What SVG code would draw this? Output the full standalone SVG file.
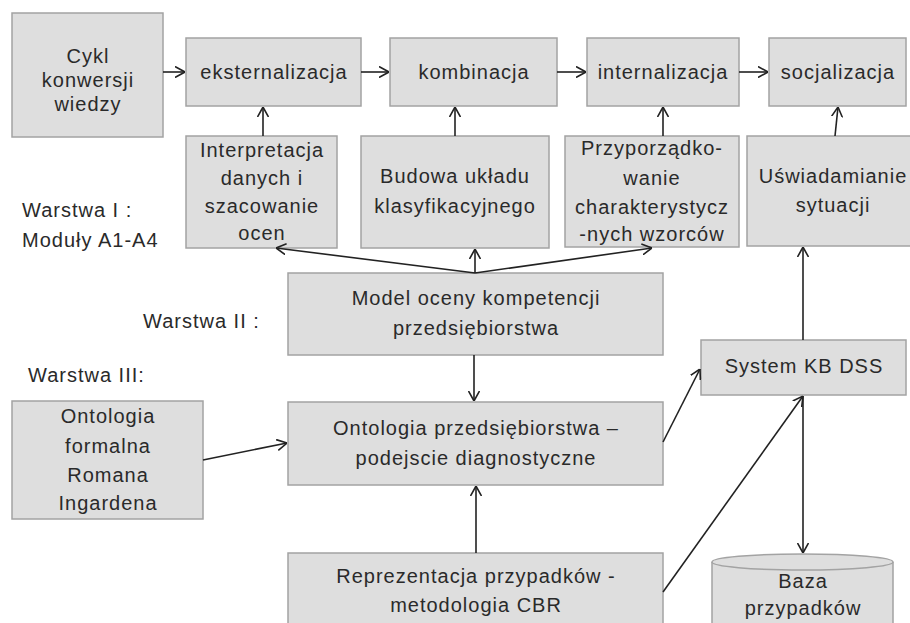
<svg xmlns="http://www.w3.org/2000/svg" width="910" height="623" viewBox="0 0 910 623">
<defs>
<style>
.b{fill:#dedede;stroke:#a3a3a3;stroke-width:1.5}
text{font-family:"Liberation Sans",Arial,sans-serif;font-size:20px;fill:#2a2a2a;letter-spacing:1px}
.c{text-anchor:middle}
.e{fill:none;stroke:#222;stroke-width:1.6}
</style>
<marker id="a" viewBox="0 0 10 12" refX="10" refY="6" markerWidth="10" markerHeight="12" markerUnits="userSpaceOnUse" orient="auto">
<path d="M0,0.5 L10,6 L0,11.5" fill="none" stroke="#222" stroke-width="1.6"/>
</marker>
</defs>
<rect width="910" height="623" fill="#fff"/>
<g id="cykl"><rect class="b" x="12" y="13" width="151" height="124"/><text class="c" x="88" y="63">Cykl</text><text class="c" x="88" y="87">konwersji</text><text class="c" x="88" y="111">wiedzy</text></g>
<g id="ekst"><rect class="b" x="186" y="38" width="175" height="68"/><text class="c" x="274" y="79">eksternalizacja</text></g>
<g id="komb"><rect class="b" x="390" y="38" width="167" height="68"/><text class="c" x="474" y="79">kombinacja</text></g>
<g id="intern"><rect class="b" x="587" y="38" width="152" height="68"/><text class="c" x="663" y="79">internalizacja</text></g>
<g id="socj"><rect class="b" x="769" y="38" width="137" height="68"/><text class="c" x="838" y="79">socjalizacja</text></g>
<g id="interp"><rect class="b" x="186" y="136" width="151" height="112"/><text class="c" x="262" y="157">Interpretacja</text><text class="c" x="262" y="185">danych i</text><text class="c" x="262" y="213">szacowanie</text><text class="c" x="262" y="240">ocen</text></g>
<g id="budowa"><rect class="b" x="361" y="136" width="188" height="112"/><text class="c" x="455" y="183">Budowa układu</text><text class="c" x="455" y="213">klasyfikacyjnego</text></g>
<g id="przyp"><rect class="b" x="565" y="136" width="174" height="111"/><text class="c" x="652" y="155">Przyporządko-</text><text class="c" x="652" y="185">wanie</text><text class="c" x="652" y="214">charakterystycz</text><text class="c" x="652" y="241">-nych wzorców</text></g>
<g id="uswiad"><rect class="b" x="747" y="136" width="172" height="110"/><text class="c" x="833" y="183">Uświadamianie</text><text class="c" x="833" y="212">sytuacji</text></g>
<g id="warstwy"><text x="22" y="217">Warstwa I :</text><text x="22" y="247">Moduły A1-A4</text><text x="143" y="328">Warstwa II :</text><text x="28" y="382">Warstwa III:</text></g>
<g id="model"><rect class="b" x="288" y="273" width="375" height="82"/><text class="c" x="476" y="305">Model oceny kompetencji</text><text class="c" x="476" y="335">przedsiębiorstwa</text></g>
<g id="ontform"><rect class="b" x="12" y="401" width="191" height="118"/><text class="c" x="108" y="423">Ontologia</text><text class="c" x="108" y="453">formalna</text><text class="c" x="108" y="482">Romana</text><text class="c" x="108" y="510">Ingardena</text></g>
<g id="ontprz"><rect class="b" x="288" y="402" width="375" height="83"/><text class="c" x="476" y="435">Ontologia przedsiębiorstwa –</text><text class="c" x="476" y="465">podejscie diagnostyczne</text></g>
<g id="repr"><rect class="b" x="288" y="553" width="375" height="80"/><text class="c" x="476" y="583">Reprezentacja przypadków -</text><text class="c" x="476" y="612">metodologia CBR</text></g>
<g id="system"><rect class="b" x="701" y="340" width="205" height="55"/><text class="c" x="804" y="373">System KB DSS</text></g>
<g id="baza"><path class="b" d="M712,562 L712,630 L893,630 L893,562"/><ellipse class="b" cx="802.5" cy="562" rx="90.5" ry="8"/><text class="c" x="803" y="588">Baza</text><text class="c" x="803" y="615">przypadków</text></g>
<g id="connectors" class="e" marker-end="url(#a)">
<line x1="163" y1="72" x2="185" y2="72"/>
<line x1="361" y1="72" x2="389" y2="72"/>
<line x1="557" y1="72" x2="586" y2="72"/>
<line x1="739" y1="72" x2="768" y2="72"/>
<line x1="263" y1="136" x2="263" y2="107"/>
<line x1="455" y1="136" x2="455" y2="107"/>
<line x1="663" y1="136" x2="663" y2="107"/>
<line x1="835" y1="136" x2="838" y2="107"/>
<line x1="475" y1="273" x2="276" y2="248"/>
<line x1="475" y1="273" x2="475" y2="249"/>
<line x1="475" y1="273" x2="652" y2="248"/>
<line x1="474" y1="355" x2="474" y2="401"/>
<line x1="203" y1="460" x2="287" y2="443"/>
<line x1="476" y1="553" x2="476" y2="486"/>
<line x1="663" y1="442" x2="700" y2="369"/>
<line x1="663" y1="592" x2="803" y2="396"/>
<line x1="803" y1="340" x2="803" y2="247"/>
<line x1="803" y1="396" x2="803" y2="553"/>
</g>
</svg>
